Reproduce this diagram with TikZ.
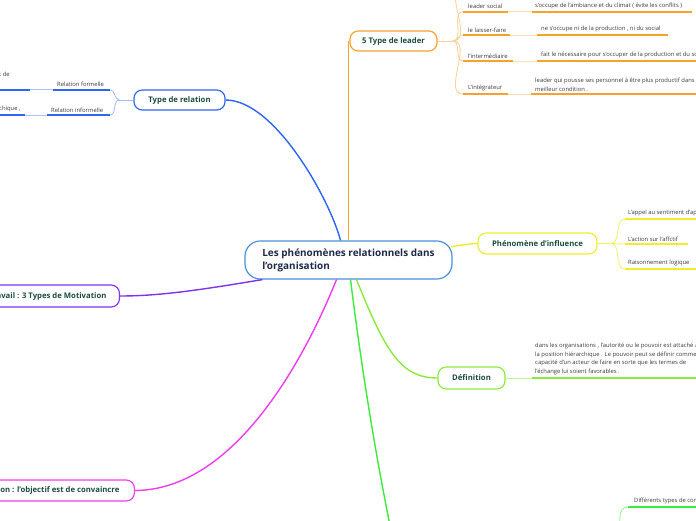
\documentclass[tikz,border=0pt]{standalone}
\usepackage{fontspec}
\setmainfont{Open Sans}
\usepackage{xcolor}
\usepackage{tikz}
\usetikzlibrary{positioning,calc}
\definecolor{navy}{HTML}{1D2A48}
\definecolor{deepgreen}{HTML}{1B4D3E}
\definecolor{itemgray}{HTML}{3A3A3A}
\definecolor{rootbd}{HTML}{4A90D9}
\definecolor{leadc}{HTML}{F7A22B}
\definecolor{relc}{HTML}{2C66F2}
\definecolor{inflc}{HTML}{F0EC2A}
\definecolor{defc}{HTML}{8AEB3C}
\definecolor{commc}{HTML}{3CEB3C}
\definecolor{motc}{HTML}{8032EE}
\definecolor{persc}{HTML}{EE3CEE}
\tikzset{
  topic/.style={draw,fill=white,rounded corners=7pt,line width=1pt,
                inner sep=0pt,text=deepgreen,
                font=\fontsize{6.6}{8}\selectfont\bfseries},
  branch/.style={line width=1.2pt},
  twig/.style={line width=0.7pt},
  uline/.style={line width=1.6pt},
  item/.style={anchor=south west,inner sep=0pt,text=itemgray,align=left,
               font=\fontsize{5}{7.6}\selectfont},
}

\begin{document}
\begin{tikzpicture}[x=0.03cm,y=-0.03cm]
  \useasboundingbox (0,0) rectangle (696,520);
  \clip (0,0) rectangle (696,520);
  % central topic
  \node[draw=rootbd,fill=white,rounded corners=13pt,line width=1pt,
        inner sep=0pt,minimum width=6.21cm,minimum height=1.14cm,
        align=left,text=navy,font=\fontsize{8.5}{11}\selectfont\bfseries]
    (root) at (348.5,260) {Les phénomènes relationnels dans\\l'organisation};
  % main topics
  \node[topic,draw=leadc,minimum width=2.61cm,minimum height=0.6cm]
    (leader) at (393.5,41) {5 Type de leader};
  \node[topic,draw=relc,minimum width=2.73cm,minimum height=0.6cm]
    (relation) at (179.5,100) {Type de relation};
  \node[topic,draw=inflc,minimum width=3.57cm,minimum height=0.63cm]
    (influence) at (537.5,243.5) {Phénomène d'influence};
  \node[topic,draw=defc,minimum width=2.01cm,minimum height=0.66cm]
    (definition) at (471.5,378) {Définition};
  \node[topic,draw=motc,anchor=east,minimum height=0.66cm,inner xsep=0.39cm]
    (motivation) at (120,296) {Motivation au travail : 3 Types de Motivation};
  \node[topic,draw=persc,anchor=east,minimum height=0.63cm,inner xsep=0.45cm]
    (persuasion) at (135,490.5) {Négociation : l'objectif est de convaincre};
  \coordinate (communication) at (394,545);
  % branches
  \draw[branch,relc]($(root.north)+(-8,0)$)
    .. controls (330,200) and (275,100) .. (relation.east);
  \draw[branch,leadc](root.north) -- (root.north |- leader.west);
  \draw[branch,inflc]($(root.east)+(-2,-13)$)
    .. controls (460,245) and (468,244) .. (influence.west);
  \draw[branch,defc]($(root.south)+(8,0)$)
    .. controls (385,350) and (400,378) .. (definition.west);
  \draw[branch,commc]($(root.south)+(2,0)$)
    .. controls (358,340) and (372,440) .. (communication);
  \draw[branch,persc]($(root.south)+(-12,0)$)
    .. controls (300,370) and (230,490) .. (persuasion.east);
  \draw[branch,motc]($(root.south west)+(18,0)$)
    .. controls (200,290) and (160,296) .. (motivation.east);
  % 5 type de leader
  \coordinate (leadfork) at ($(leader.east)+(15,0)$);
  \draw[twig,leadc!50](leader.east) -- (leadfork);
  \coordinate (lead-0) at (463,-16);
  \draw[twig,leadc!50](leadfork) to[out=0,in=180] (lead-0);
  \foreach \n/\yy/\ua/\ub/\uc in {1/11.7/508/532/692,2/35/510/537/668,
                                  3/61/513/537/700,4/94/508/531/700}{
    \coordinate (lead-\n) at (463,\yy);
    \draw[twig,leadc!50](leadfork) to[out=0,in=180] (lead-\n);
    \draw[uline,leadc](lead-\n) -- (\ua,\yy);
    \draw[twig,leadc!35](\ua,\yy) -- (\ub,\yy);
    \draw[uline,leadc](\ub,\yy) -- (\uc,\yy);
  }
  \node[item] at (468,9.2) {leader social};
  \node[item] at (535,9.2) {s'occupe de l'ambiance et du climat ( évite les conflits )};
  \node[item] at (468,32.5) {le laisser-faire};
  \node[item] at (541,32.5) {ne s'occupe ni de la production , ni du social};
  \node[item] at (468,58.5) {l'intermédiaire};
  \node[item] at (541,58.5) {fait le nécessaire pour s'occuper de la production et du social};
  \node[item] at (468,91.5) {L'intégrateur};
  \node[item] at (535,91.5) {leader qui pousse ses personnel à être plus productif dans\\meilleur condition .};
  % type de relation
  \coordinate (relfork) at ($(relation.west)+(-14,0)$);
  \draw[twig,relc!45](relation.west) -- (relfork);
  \foreach \n/\yy/\ua/\ub in {1/89.7/30/53,2/115/25/47}{
    \coordinate (rel-\n) at (110,\yy);
    \draw[twig,relc!45](relfork) to[out=180,in=0] (rel-\n);
    \draw[uline,relc](rel-\n) -- (\ub,\yy);
    \draw[twig,relc!40](\ub,\yy) -- (\ua,\yy);
    \draw[uline,relc](\ua,\yy) -- (-5,\yy);
  }
  \node[item] at (57,87.2) {Relation formelle};
  \node[item] at (51,112.5) {Relation informelle};
  \node[item,anchor=base west] at (-1,76) {t de};
  \node[item] at (-1,112.5) {chique ,};
  % phenomene d'influence
  \coordinate (inflfork) at ($(influence.east)+(13,0)$);
  \draw[twig,inflc!70](influence.east) -- (inflfork);
  \foreach \n/\yy/\uc in {1/219/700,2/244/688,3/269/700}{
    \coordinate (infl-\n) at (625,\yy);
    \draw[twig,inflc!70](inflfork) to[out=0,in=180] (infl-\n);
    \draw[uline,inflc](infl-\n) -- (\uc,\yy);
  }
  \node[item] at (628,216.5) {L'appel au sentiment d'appartenance};
  \node[item] at (628,241.5) {L'action sur l'affctif};
  \node[item] at (628,266.5) {Raisonnement logique};
  % definition
  \coordinate (def-1) at (532,378);
  \draw[twig,defc!55](definition.east) -- (def-1);
  \draw[uline,defc](def-1) -- (700,378);
  \node[item] at (535,375.5)
    {dans les organisations  , l'autorité ou le pouvoir est attaché à\\
     la position hiérarchique . Le pouvoir peut se définir comme la\\
     capacité d'un acteur de faire en sorte que les termes de\\
     l'échange lui soient favorables .};
  % communication
  \coordinate (comm-1) at (628,507);
  \coordinate (commfork) at (619,535);
  \draw[twig,commc!55](commfork) to[out=80,in=180] (comm-1);
  \draw[uline,commc](comm-1) -- (700,507);
  \node[item] at (634,504.5) {Différents types de communication};
\end{tikzpicture}
\end{document}
